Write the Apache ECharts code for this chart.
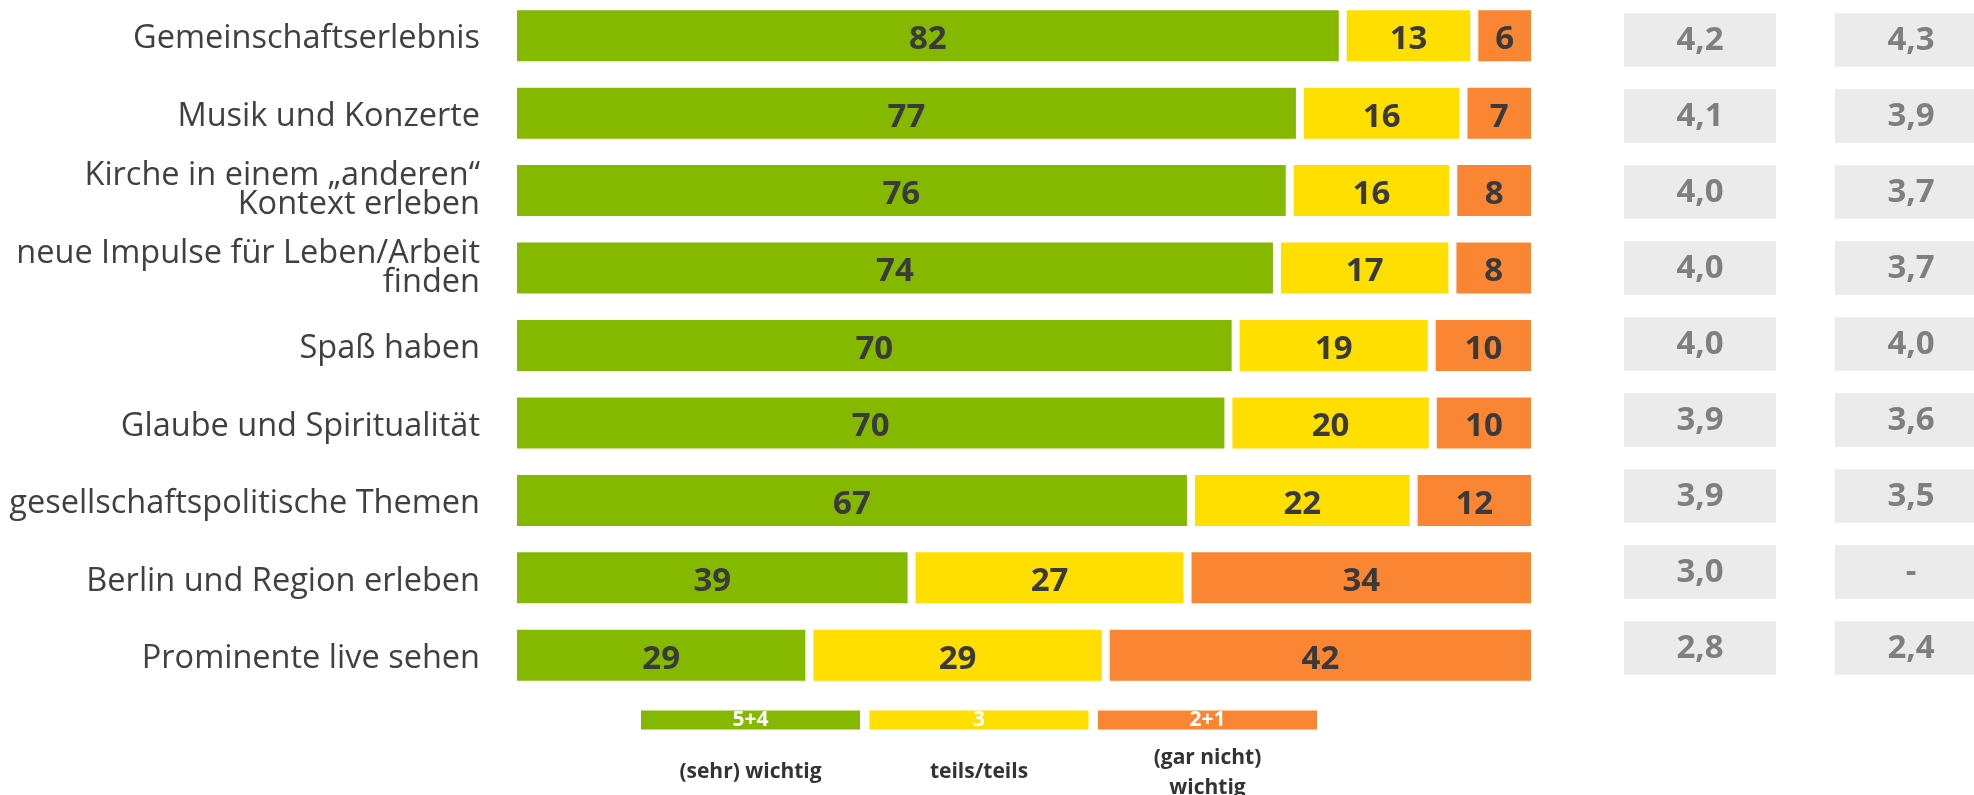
<!DOCTYPE html>
<html>
<head>
<meta charset="utf-8">
<script src="https://cdn.jsdelivr.net/npm/echarts@6/dist/echarts.min.js"></script>
<style>
html,body{margin:0;padding:0;background:#fff;}
#c{width:1974px;height:795px;}
</style>
</head>
<body>
<div id="c"></div>
<script>
// ---- data ----
const categories = [
  'Gemeinschaftserlebnis',
  'Musik und Konzerte',
  'Kirche in einem \u201Eanderen\u201C\nKontext erleben',
  'neue Impulse f\u00FCr Leben/Arbeit\nfinden',
  'Spa\u00DF haben',
  'Glaube und Spiritualit\u00E4t',
  'gesellschaftspolitische Themen',
  'Berlin und Region erleben',
  'Prominente live sehen'
];
const sehrWichtig = [82, 77, 76, 74, 70, 70, 67, 39, 29];
const teilsTeils  = [13, 16, 16, 17, 19, 20, 22, 27, 29];
const garNicht    = [6, 7, 8, 8, 10, 10, 12, 34, 42];
const meanA = [4.2, 4.1, 4.0, 4.0, 4.0, 3.9, 3.9, 3.0, 2.8];
const meanB = [4.3, 3.9, 3.7, 3.7, 4.0, 3.6, 3.5, null, 2.4];
const meanColumns = ['A', 'B'];
const legendCodes = ['5+4', '3', '2+1'];
const legendNames = ['(sehr) wichtig', 'teils/teils', '(gar nicht)\nwichtig'];

// ---- style ----
const COLORS = ['#84b900', '#ffdf00', '#fa8532'];
const FONT = '"Open Sans", "Noto Sans", sans-serif';

const rowTotals = sehrWichtig.map((v, i) => v + teilsTeils[i] + garNicht[i]);
function share(arr) {
  return arr.map((v, i) => ({ value: v / rowTotals[i] * 100, raw: v }));
}
const groups = [sehrWichtig, teilsTeils, garNicht];

const barSeries = groups.map((arr, k) => ({
  type: 'bar',
  stack: 'total',
  xAxisIndex: 0,
  yAxisIndex: 0,
  barWidth: 59,
  data: share(arr),
  itemStyle: { color: COLORS[k], borderColor: '#ffffff', borderWidth: 4 },
  label: {
    show: true,
    position: 'inside',
    offset: [0, 4],
    formatter: p => p.data.raw,
    color: '#3a3a3a',
    fontFamily: FONT,
    fontWeight: 'bold',
    fontSize: 33
  },
  emphasis: { disabled: true },
  silent: true
}));

const fmtMean = v => (v == null ? '-' : v.toFixed(1).replace('.', ','));
const boxData = [];
[meanA, meanB].forEach((arr, c) => {
  arr.forEach((v, i) => boxData.push({ value: [c, i], mean: v }));
});

const legendGraphics = legendCodes.map((code, i) => {
  const twoLine = legendNames[i].indexOf('\n') >= 0;
  return {
    type: 'group',
    left: 641 + i * 228.5,
    top: 710,
    children: [
      { type: 'rect', shape: { x: 0, y: 0, width: 219, height: 19 }, style: { fill: COLORS[i] } },
      { type: 'text', x: 109.5, y: 10, style: { text: code, fill: '#ffffff', font: 'bold 21px ' + FONT, align: 'center', verticalAlign: 'middle' } },
      { type: 'text', x: 109.5, y: twoLine ? 63 : 62,
        style: { text: legendNames[i], fill: '#333333', font: 'bold 21px ' + FONT, align: 'center', verticalAlign: 'middle', lineHeight: 30 } }
    ]
  };
});

const chart = echarts.init(document.getElementById('c'), null, { renderer: 'canvas' });
chart.setOption({
  animation: false,
  backgroundColor: '#ffffff',
  grid: [
    { left: 513, width: 1022, top: -3, height: 697, containLabel: false, outerBoundsMode: 'none' },
    { left: 1700, width: 211, top: 2, height: 684, containLabel: false, outerBoundsMode: 'none' }
  ],
  xAxis: [
    { type: 'value', gridIndex: 0, min: 0, max: 100, show: false },
    { type: 'category', gridIndex: 1, data: meanColumns, boundaryGap: false, show: false }
  ],
  yAxis: [
    {
      type: 'category', gridIndex: 0, data: categories, inverse: true,
      axisLine: { show: false }, axisTick: { show: false }, splitLine: { show: false },
      axisLabel: {
        margin: 33, align: 'right',
        formatter: v => v.indexOf('\n') >= 0
          ? v.split('\n').map(l => '{m|' + l + '}').join('\n')
          : '{s|' + v + '}',
        rich: {
          s: { color: '#404040', fontFamily: FONT, fontSize: 32.5, lineHeight: 22, padding: [7, 0, 0, 0], align: 'right' },
          m: { color: '#404040', fontFamily: FONT, fontSize: 32.5, lineHeight: 29, align: 'right' }
        }
      }
    },
    { type: 'category', gridIndex: 1, data: categories, inverse: true, show: false }
  ],
  series: barSeries.concat([{
    type: 'scatter',
    xAxisIndex: 1,
    yAxisIndex: 1,
    symbol: 'rect',
    symbolSize: [152, 54],
    data: boxData,
    itemStyle: { color: '#ebebeb', opacity: 1 },
    label: {
      show: true,
      position: 'inside',
      offset: [0, 1],
      formatter: p => fmtMean(p.data.mean),
      color: '#7f7f7f',
      fontFamily: FONT,
      fontWeight: 'bold',
      fontSize: 33
    },
    emphasis: { disabled: true },
    silent: true
  }]),
  graphic: legendGraphics
});
</script>
</body>
</html>
